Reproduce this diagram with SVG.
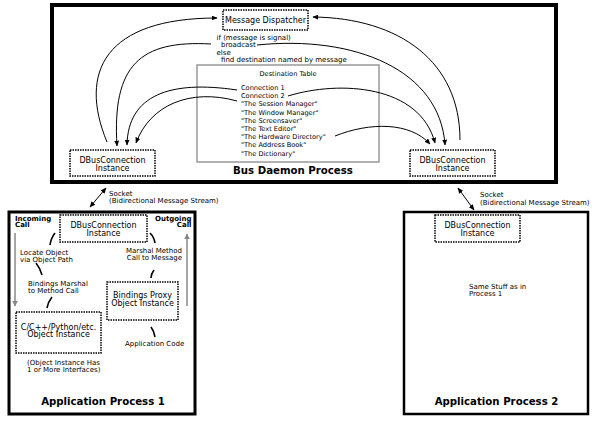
<svg xmlns="http://www.w3.org/2000/svg" width="600" height="424" viewBox="0 0 600 424">
<defs>
<marker id="ah" viewBox="0 0 10 10" refX="9" refY="5" markerWidth="6" markerHeight="5" markerUnits="userSpaceOnUse" orient="auto-start-reverse" preserveAspectRatio="none">
<path d="M0,0 L10,5 L0,10 z" fill="#000"/>
</marker>
<marker id="ahg" viewBox="0 0 10 10" refX="9" refY="5" markerWidth="6" markerHeight="6" markerUnits="userSpaceOnUse" orient="auto">
<path d="M0,0 L10,5 L0,10 z" fill="#888"/>
</marker>
<style>
text{font-family:"DejaVu Sans","Liberation Sans",sans-serif;fill:#000}
.t8{font-size:8px}
.t7{font-size:7px}
.t66{font-size:6.6px}
.b7{font-size:7px;font-weight:bold}
.title{font-size:10.2px;font-weight:bold}
.dot{fill:#fff;stroke:#000;stroke-width:1.5;stroke-dasharray:1.5,1}
.conn{fill:none;stroke:#000;stroke-width:1;marker-end:url(#ah)}
.tick{fill:none;stroke:#000;stroke-width:1.6}
.garr{fill:none;stroke:#888;stroke-width:1.5;marker-end:url(#ahg)}
</style>
</defs>
<rect width="600" height="424" fill="#fff"/>

<g id="bus-daemon">
<rect x="52" y="5" width="504" height="177" fill="#fff" stroke="#000" stroke-width="4"/>
<text class="title" x="293" y="174" text-anchor="middle">Bus Daemon Process</text>
</g>

<g id="destination-table">
<rect x="197" y="65" width="182" height="97" fill="none" stroke="#999" stroke-width="1.5"/>
<text class="t66" x="288" y="75.5" text-anchor="middle">Destination Table</text>
<text class="t66" x="241" y="90">Connection 1</text>
<text class="t66" x="241" y="98.2">Connection 2</text>
<text class="t66" x="241" y="106.4">"The Session Manager"</text>
<text class="t66" x="241" y="114.6">"The Window Manager"</text>
<text class="t66" x="241" y="122.8">"The Screensaver"</text>
<text class="t66" x="241" y="131">"The Text Editor"</text>
<text class="t66" x="241" y="139.2">"The Hardware Directory"</text>
<text class="t66" x="241" y="147.4">"The Address Book"</text>
<text class="t66" x="241" y="155.6">"The Dictionary"</text>
</g>

<g id="dispatch-logic">
<text class="t7" x="216.5" y="39.8">if (message is signal)</text>
<text class="t7" x="221" y="47.3">broadcast</text>
<text class="t7" x="216.5" y="54.8">else</text>
<text class="t7" x="221" y="62">find destination named by message</text>
</g>

<g id="message-dispatcher">
<rect class="dot" x="223" y="10" width="85" height="20"/>
<text class="t8" x="265.5" y="22.5" text-anchor="middle">Message Dispatcher</text>
</g>

<g id="bus-dbus-left">
<rect class="dot" x="70" y="150" width="85" height="26"/>
<text class="t8" x="112.5" y="162.8" text-anchor="middle">DBusConnection</text>
<text class="t8" x="112.5" y="170.6" text-anchor="middle">Instance</text>
</g>

<g id="bus-dbus-right">
<rect class="dot" x="410" y="150" width="85" height="26"/>
<text class="t8" x="452.5" y="162.8" text-anchor="middle">DBusConnection</text>
<text class="t8" x="452.5" y="170.6" text-anchor="middle">Instance</text>
</g>

<g id="app-process-1">
<rect x="9" y="212" width="186" height="202" fill="#fff" stroke="#000" stroke-width="3"/>
<text class="title" x="103" y="405" text-anchor="middle">Application Process 1</text>
<text class="b7" x="15" y="220.8">Incoming</text>
<text class="b7" x="15" y="227.3">Call</text>
<text class="b7" x="191.5" y="220.8" text-anchor="end">Outgoing</text>
<text class="b7" x="191.5" y="227.3" text-anchor="end">Call</text>
<text class="t7" x="20" y="254.5">Locate Object</text>
<text class="t7" x="20" y="261.5">via Object Path</text>
<text class="t7" x="28" y="286.3">Bindings Marshal</text>
<text class="t7" x="28" y="293.3">to Method Call</text>
<text class="t7" x="27" y="365">(Object Instance Has</text>
<text class="t7" x="27" y="371.5">1 or More Interfaces)</text>
<text class="t7" x="182" y="252.5" text-anchor="end">Marshal Method</text>
<text class="t7" x="182" y="260" text-anchor="end">Call to Message</text>
<text class="t7" x="125" y="346">Application Code</text>
</g>

<g id="app1-dbus">
<rect class="dot" x="60" y="215" width="87" height="27"/>
<text class="t8" x="103.5" y="227.8" text-anchor="middle">DBusConnection</text>
<text class="t8" x="103.5" y="235.5" text-anchor="middle">Instance</text>
</g>

<g id="app1-object">
<rect class="dot" x="16" y="312" width="85" height="41"/>
<text class="t8" x="58.5" y="329.5" text-anchor="middle">C/C++/Python/etc.</text>
<text class="t8" x="58.5" y="337.3" text-anchor="middle">Object Instance</text>
</g>

<g id="app1-proxy">
<rect class="dot" x="107" y="282" width="71" height="38"/>
<text class="t8" x="142.5" y="297.8" text-anchor="middle">Bindings Proxy</text>
<text class="t8" x="142.5" y="305.8" text-anchor="middle">Object Instance</text>
</g>

<g id="app-process-2">
<rect x="404" y="212" width="184" height="202" fill="#fff" stroke="#000" stroke-width="2.5"/>
<text class="title" x="496.5" y="405" text-anchor="middle">Application Process 2</text>
<text class="t7" x="469" y="288.5">Same Stuff as in</text>
<text class="t7" x="469" y="295.5">Process 1</text>
</g>

<g id="app2-dbus">
<rect class="dot" x="435" y="215" width="85" height="27"/>
<text class="t8" x="477.5" y="227.8" text-anchor="middle">DBusConnection</text>
<text class="t8" x="477.5" y="235.5" text-anchor="middle">Instance</text>
</g>

<g id="sockets">
<text class="t7" x="109" y="195.5">Socket</text>
<text class="t7" x="109" y="202.5">(Bidirectional Message Stream)</text>
<text class="t7" x="480" y="197">Socket</text>
<text class="t7" x="480" y="204.5">(Bidirectional Message Stream)</text>
</g>

<g id="connectors">
<path class="conn" d="M107,142 C78,72 105,18 217,18"/>
<path class="conn" d="M211,44 C140,40 112,65 117,146"/>
<path class="conn" d="M237,90 C170,80 128,95 127,145"/>
<path class="conn" d="M237,101 C190,88 150,105 136,143"/>
<path class="conn" d="M460,140 C460,62 400,18 313,17"/>
<path class="conn" d="M257,45 C355,35 440,70 445,145"/>
<path class="conn" d="M288,96 C340,80 420,85 435,143"/>
<path class="conn" d="M335,136 C370,122 410,122 430,144"/>
<path class="conn" d="M90,207 L106,188" marker-start="url(#ah)"/>
<path class="conn" d="M458,188 L474,210" marker-start="url(#ah)"/>
<path class="garr" d="M15,233 L15,306"/>
<path class="garr" d="M187,306 L187,234"/>
<path class="tick" d="M55,233 Q51,238 50,245"/>
<path class="tick" d="M36,263 Q40,268 42,275"/>
<path class="tick" d="M52,297 Q48,302 47,308"/>
<path class="tick" d="M150,233 Q154,237 155,243"/>
<path class="tick" d="M154,270 Q151,274 151,278"/>
<path class="tick" d="M151,327 Q154,331 155,337"/>
</g>
</svg>
